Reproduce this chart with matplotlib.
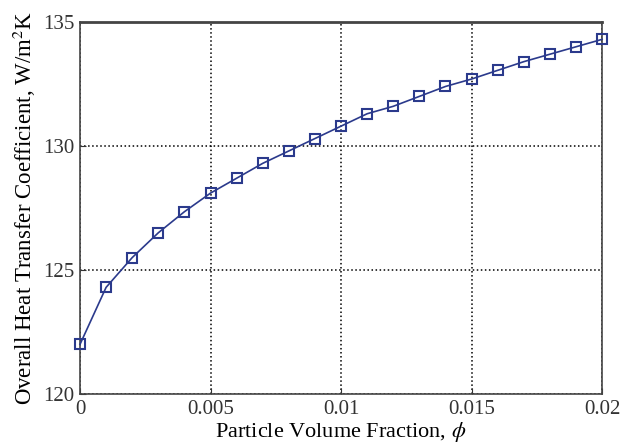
import matplotlib.pyplot as plt
import numpy as np

# volume fraction vs overall heat transfer coefficient
phi = [0.000, 0.001, 0.002, 0.003, 0.004, 0.005, 0.006, 0.007, 0.008, 0.009, 0.010,
       0.011, 0.012, 0.013, 0.014, 0.015, 0.016, 0.017, 0.018, 0.019, 0.020]
U = [122.0, 124.3, 125.5, 126.5, 127.35, 128.1, 128.7, 129.3, 129.8, 130.3, 130.8,
     131.3, 131.6, 132.0, 132.4, 132.7, 133.05, 133.4, 133.7, 134.0, 134.3]

xticks = [0, 0.005, 0.01, 0.015, 0.02]
xticklabels = ['0', '0.005', '0.01', '0.015', '0.02']
yticks = [120, 125, 130, 135]

plt.rcParams['font.family'] = ['Liberation Serif', 'DejaVu Serif']
plt.rcParams['mathtext.fontset'] = 'stix'

fig = plt.figure(figsize=(6.22, 4.45), dpi=100)
ax = fig.add_axes([0.1286, 0.1146, 0.8394, 0.836])

ax.plot(phi, U, color='#2b3a8c', linewidth=1.2, marker='s', markersize=7.5,
        markerfacecolor='none', markeredgecolor='#2b3a8c', markeredgewidth=1.5,
        clip_on=False, zorder=3)

ax.set_xlim(0, 0.02)
ax.set_ylim(120, 135)
ax.set_xticks(xticks)
ax.set_xticklabels(xticklabels)
ax.set_yticks(yticks)
ax.grid(True, color='black', linestyle=':', linewidth=1.1)
ax.tick_params(direction='in', length=4, labelsize=15, colors='#333333', pad=4)
for s in ax.spines.values():
    s.set_color('#444444')
    s.set_linewidth(1.2)
ax.spines['top'].set_linewidth(2.0)

ax.set_xlabel(r'Particle Volume Fraction, $\phi$', fontsize=16, labelpad=1)
ax.set_ylabel(r'Overall Heat Transfer Coefficient, W/m$^2$K', fontsize=16.5, labelpad=4)

fig.savefig('out.png', dpi=100)
